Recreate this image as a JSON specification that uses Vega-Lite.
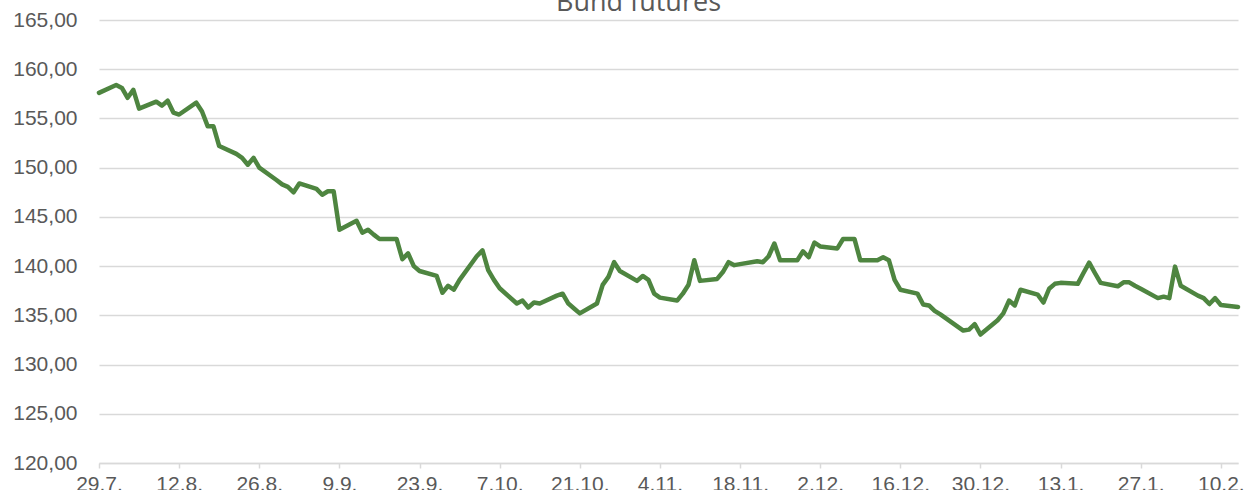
{
  "$schema": "https://vega.github.io/schema/vega-lite/v6.json",
  "width": 1139,
  "height": 443,
  "autosize": "none",
  "padding": {"left": 99, "top": 20, "right": 11, "bottom": 27},
  "background": "white",
  "title": {
    "text": "Bund futures",
    "font": "Open Sans",
    "fontSize": 27,
    "fontWeight": "normal",
    "color": "#595959",
    "baseline": "alphabetic",
    "anchor": "middle",
    "offset": 0,
    "dx": -30,
    "dy": 29
  },
  "config": {
    "view": {"stroke": null},
    "axis": {"labelFont": "Liberation Sans", "labelFontSize": 21, "labelColor": "#595959"}
  },
  "data": {
    "values": [
      {"date": "2022-07-29", "price": 157.6},
      {"date": "2022-08-01", "price": 158.4},
      {"date": "2022-08-02", "price": 158.1},
      {"date": "2022-08-03", "price": 157.1},
      {"date": "2022-08-04", "price": 157.9},
      {"date": "2022-08-05", "price": 156.0},
      {"date": "2022-08-08", "price": 156.7},
      {"date": "2022-08-09", "price": 156.3},
      {"date": "2022-08-10", "price": 156.8},
      {"date": "2022-08-11", "price": 155.6},
      {"date": "2022-08-12", "price": 155.4},
      {"date": "2022-08-15", "price": 156.6},
      {"date": "2022-08-16", "price": 155.7},
      {"date": "2022-08-17", "price": 154.2},
      {"date": "2022-08-18", "price": 154.2},
      {"date": "2022-08-19", "price": 152.2},
      {"date": "2022-08-22", "price": 151.4},
      {"date": "2022-08-23", "price": 151.0},
      {"date": "2022-08-24", "price": 150.3},
      {"date": "2022-08-25", "price": 151.0},
      {"date": "2022-08-26", "price": 150.0},
      {"date": "2022-08-29", "price": 148.75},
      {"date": "2022-08-30", "price": 148.3},
      {"date": "2022-08-31", "price": 148.05},
      {"date": "2022-09-01", "price": 147.5},
      {"date": "2022-09-02", "price": 148.4},
      {"date": "2022-09-05", "price": 147.85},
      {"date": "2022-09-06", "price": 147.25},
      {"date": "2022-09-07", "price": 147.6},
      {"date": "2022-09-08", "price": 147.6},
      {"date": "2022-09-09", "price": 143.7},
      {"date": "2022-09-12", "price": 144.6},
      {"date": "2022-09-13", "price": 143.4},
      {"date": "2022-09-14", "price": 143.7},
      {"date": "2022-09-15", "price": 143.2},
      {"date": "2022-09-16", "price": 142.75},
      {"date": "2022-09-19", "price": 142.75},
      {"date": "2022-09-20", "price": 140.7},
      {"date": "2022-09-21", "price": 141.3},
      {"date": "2022-09-22", "price": 140.0},
      {"date": "2022-09-23", "price": 139.5},
      {"date": "2022-09-26", "price": 139.0},
      {"date": "2022-09-27", "price": 137.3},
      {"date": "2022-09-28", "price": 138.0},
      {"date": "2022-09-29", "price": 137.6},
      {"date": "2022-09-30", "price": 138.6},
      {"date": "2022-10-03", "price": 141.0},
      {"date": "2022-10-04", "price": 141.6},
      {"date": "2022-10-05", "price": 139.6},
      {"date": "2022-10-06", "price": 138.6},
      {"date": "2022-10-07", "price": 137.75},
      {"date": "2022-10-10", "price": 136.2},
      {"date": "2022-10-11", "price": 136.5},
      {"date": "2022-10-12", "price": 135.8},
      {"date": "2022-10-13", "price": 136.3},
      {"date": "2022-10-14", "price": 136.2},
      {"date": "2022-10-17", "price": 137.0},
      {"date": "2022-10-18", "price": 137.2},
      {"date": "2022-10-19", "price": 136.2},
      {"date": "2022-10-20", "price": 135.7},
      {"date": "2022-10-21", "price": 135.2},
      {"date": "2022-10-24", "price": 136.2},
      {"date": "2022-10-25", "price": 138.1},
      {"date": "2022-10-26", "price": 138.9},
      {"date": "2022-10-27", "price": 140.4},
      {"date": "2022-10-28", "price": 139.5},
      {"date": "2022-10-31", "price": 138.5},
      {"date": "2022-11-01", "price": 139.0},
      {"date": "2022-11-02", "price": 138.6},
      {"date": "2022-11-03", "price": 137.2},
      {"date": "2022-11-04", "price": 136.8},
      {"date": "2022-11-07", "price": 136.5},
      {"date": "2022-11-08", "price": 137.2},
      {"date": "2022-11-09", "price": 138.1},
      {"date": "2022-11-10", "price": 140.6},
      {"date": "2022-11-11", "price": 138.5},
      {"date": "2022-11-14", "price": 138.7},
      {"date": "2022-11-15", "price": 139.4},
      {"date": "2022-11-16", "price": 140.4},
      {"date": "2022-11-17", "price": 140.1},
      {"date": "2022-11-18", "price": 140.2},
      {"date": "2022-11-21", "price": 140.5},
      {"date": "2022-11-22", "price": 140.4},
      {"date": "2022-11-23", "price": 141.0},
      {"date": "2022-11-24", "price": 142.3},
      {"date": "2022-11-25", "price": 140.6},
      {"date": "2022-11-28", "price": 140.6},
      {"date": "2022-11-29", "price": 141.5},
      {"date": "2022-11-30", "price": 140.9},
      {"date": "2022-12-01", "price": 142.4},
      {"date": "2022-12-02", "price": 142.0},
      {"date": "2022-12-05", "price": 141.8},
      {"date": "2022-12-06", "price": 142.75},
      {"date": "2022-12-07", "price": 142.75},
      {"date": "2022-12-08", "price": 142.75},
      {"date": "2022-12-09", "price": 140.6},
      {"date": "2022-12-12", "price": 140.6},
      {"date": "2022-12-13", "price": 140.9},
      {"date": "2022-12-14", "price": 140.6},
      {"date": "2022-12-15", "price": 138.6},
      {"date": "2022-12-16", "price": 137.6},
      {"date": "2022-12-19", "price": 137.2},
      {"date": "2022-12-20", "price": 136.1},
      {"date": "2022-12-21", "price": 136.0},
      {"date": "2022-12-22", "price": 135.45},
      {"date": "2022-12-23", "price": 135.1},
      {"date": "2022-12-27", "price": 133.45},
      {"date": "2022-12-28", "price": 133.55},
      {"date": "2022-12-29", "price": 134.1},
      {"date": "2022-12-30", "price": 133.05},
      {"date": "2023-01-02", "price": 134.5},
      {"date": "2023-01-03", "price": 135.2},
      {"date": "2023-01-04", "price": 136.5},
      {"date": "2023-01-05", "price": 136.0},
      {"date": "2023-01-06", "price": 137.6},
      {"date": "2023-01-09", "price": 137.1},
      {"date": "2023-01-10", "price": 136.3},
      {"date": "2023-01-11", "price": 137.7},
      {"date": "2023-01-12", "price": 138.2},
      {"date": "2023-01-13", "price": 138.3},
      {"date": "2023-01-16", "price": 138.2},
      {"date": "2023-01-17", "price": 139.3},
      {"date": "2023-01-18", "price": 140.35},
      {"date": "2023-01-19", "price": 139.3},
      {"date": "2023-01-20", "price": 138.3},
      {"date": "2023-01-23", "price": 137.95},
      {"date": "2023-01-24", "price": 138.35},
      {"date": "2023-01-25", "price": 138.35},
      {"date": "2023-01-26", "price": 138.0},
      {"date": "2023-01-27", "price": 137.7},
      {"date": "2023-01-30", "price": 136.75},
      {"date": "2023-01-31", "price": 136.9},
      {"date": "2023-02-01", "price": 136.75},
      {"date": "2023-02-02", "price": 139.95},
      {"date": "2023-02-03", "price": 138.0},
      {"date": "2023-02-06", "price": 137.0},
      {"date": "2023-02-07", "price": 136.75},
      {"date": "2023-02-08", "price": 136.15},
      {"date": "2023-02-09", "price": 136.75},
      {"date": "2023-02-10", "price": 136.05},
      {"date": "2023-02-13", "price": 135.85}
    ]
  },
  "mark": {"type": "line", "color": "#4e8540", "strokeWidth": 4.5, "strokeJoin": "round", "strokeCap": "round"},
  "encoding": {
    "x": {
      "field": "date",
      "type": "temporal",
      "title": null,
      "scale": {
        "type": "utc",
        "domain": [
          {"year": 2022, "month": 7, "date": 29, "utc": true},
          {"year": 2023, "month": 2, "date": 13, "utc": true}
        ],
        "nice": false
      },
      "axis": {
        "values": [
          {"year": 2022, "month": 7, "date": 29, "utc": true},
          {"year": 2022, "month": 8, "date": 12, "utc": true},
          {"year": 2022, "month": 8, "date": 26, "utc": true},
          {"year": 2022, "month": 9, "date": 9, "utc": true},
          {"year": 2022, "month": 9, "date": 23, "utc": true},
          {"year": 2022, "month": 10, "date": 7, "utc": true},
          {"year": 2022, "month": 10, "date": 21, "utc": true},
          {"year": 2022, "month": 11, "date": 4, "utc": true},
          {"year": 2022, "month": 11, "date": 18, "utc": true},
          {"year": 2022, "month": 12, "date": 2, "utc": true},
          {"year": 2022, "month": 12, "date": 16, "utc": true},
          {"year": 2022, "month": 12, "date": 30, "utc": true},
          {"year": 2023, "month": 1, "date": 13, "utc": true},
          {"year": 2023, "month": 1, "date": 27, "utc": true},
          {"year": 2023, "month": 2, "date": 10, "utc": true}
        ],
        "labelExpr": "utcFormat(datum.value, '%-d.%-m.')",
        "grid": false,
        "domain": true,
        "domainColor": "#d9d9d9",
        "domainWidth": 1.5,
        "ticks": true,
        "tickSize": 5,
        "tickColor": "#d9d9d9",
        "tickWidth": 1.5,
        "labelPadding": 5,
        "labelOverlap": false,
        "labelFlush": false,
        "labelBaseline": "top"
      }
    },
    "y": {
      "field": "price",
      "type": "quantitative",
      "title": null,
      "scale": {"domain": [120, 165], "nice": false, "zero": false},
      "axis": {
        "values": [120, 125, 130, 135, 140, 145, 150, 155, 160, 165],
        "labelExpr": "replace(format(datum.value, '.2f'), '.', ',')",
        "grid": true,
        "gridColor": "#d9d9d9",
        "gridWidth": 1.5,
        "domain": false,
        "ticks": false,
        "tickSize": 0,
        "labelPadding": 22
      }
    }
  }
}
